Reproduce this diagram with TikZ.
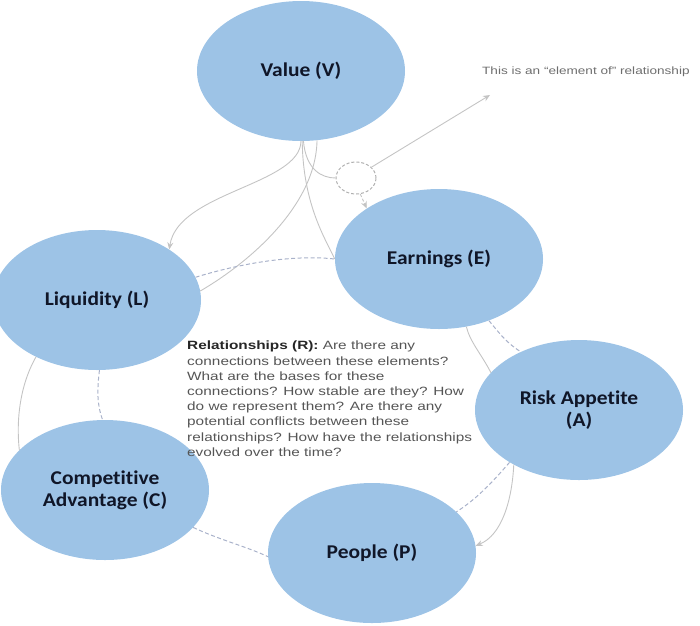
\documentclass[tikz,border=0pt]{standalone}
\usepackage{fontspec}
\setmainfont{Liberation Sans}
\newfontfamily\lblfont[FakeStretch=1.1,Ligatures=NoCommon]{Carlito}
\newfontfamily\txtfont[FakeStretch=1.28]{Liberation Sans}
\usetikzlibrary{shapes.geometric,arrows.meta}
\definecolor{bubble}{HTML}{9DC3E6}
\definecolor{lbltext}{HTML}{101628}
\definecolor{conn}{HTML}{C4C4C4}
\definecolor{dashc}{HTML}{A9B2CA}
\definecolor{bodytext}{HTML}{555555}
\tikzset{
  bubblenode/.style={ellipse, fill=bubble, minimum width=208pt, minimum height=140pt, inner sep=0pt,
    font={\lblfont\bfseries\fontsize{19.5}{22}\selectfont}, text=lbltext, align=center},
  conline/.style={draw=conn, line width=0.9pt},
  conarrow/.style={conline, -{Stealth[length=7pt,width=6pt]}},
  dashline/.style={draw=dashc, line width=1pt, dashed, dash pattern=on 4pt off 2.5pt},
}
\begin{document}
\begin{tikzpicture}[x=1pt,y=-1pt]
\useasboundingbox (0,0) rectangle (700,625);
% ellipses
\node[bubblenode] (V) at (301,71) {Value (V)};
\node[bubblenode] (E) at (439,259) {Earnings (E)};
\node[bubblenode] (L) at (97,300) {Liquidity (L)};
\node[bubblenode] (C) at (105,490) {Competitive\\Advantage (C)};
\node[bubblenode] (A) at (579,410) {Risk Appetite\\(A)};
\node[bubblenode] (P) at (372,553) {People (P)};
% element-of circle
\node[ellipse, draw=conn!90!black, dashed, dash pattern=on 3pt off 2pt, line width=1pt,
      minimum width=40pt, minimum height=32pt, inner sep=0pt] (el) at (356,178) {};
% note text
\node[anchor=west, inner sep=0pt, text=bodytext!85!white,
      font={\txtfont\fontsize{10.6}{12}\selectfont}] (note) at (482,72) {This is an “element of” relationship};
\coordinate (noteend) at (490,95);
% relationships text
\node[anchor=north west, inner sep=0pt, align=left, text=bodytext,
      font={\txtfont\fontsize{12}{15.2}\selectfont}] (R) at (187,341)
  {\textcolor{black!85}{\bfseries Relationships (R):} Are there any\\
   connections between these elements?\\
   What are the bases for these\\
   connections? How stable are they? How\\
   do we represent them? Are there any\\
   potential conflicts between these\\
   relationships? How have the relationships\\
   evolved over the time?};
% connectors from V
\draw[conarrow] (V.-90) .. controls (300,185) and (178,192) .. (L.35);
\draw[conline] (V.-77) .. controls (316,205) and (250,262) .. (L.5);
\draw[conline] (V.-89) .. controls (303,205) and (326,240) .. (E.180);
\draw[conline] (V.-88) .. controls (306,170) and (322,178) .. (el.west);
% element-of arrows
\draw[conarrow] (el.35) -- (noteend);
\draw[conarrow, dashed, dash pattern=on 3pt off 2pt] (el.-75) -- (E.145);
% dashed relationship lines
\draw[dashline] (L.13) .. controls (235,265) and (290,254) .. (E.180);
\draw[dashline] (E.-51) .. controls (497,330) and (505,342) .. (A.135);
\draw[dashline] (A.-143) .. controls (490,485) and (475,500) .. (P.26);
\draw[dashline] (C.-23) .. controls (220,540) and (245,546) .. (P.182);
\draw[dashline] (L.-88) .. controls (97,390) and (97,405) .. (C.92);
% solid relationship lines
\draw[conline] (E.-68) .. controls (470,342) and (482,355) .. (A.157);
\draw[conarrow] (A.-140) .. controls (512,500) and (502,535) .. (P.4);
\draw[conline] (L.-137) .. controls (20,385) and (16,420) .. (C.155);
\end{tikzpicture}
\end{document}
